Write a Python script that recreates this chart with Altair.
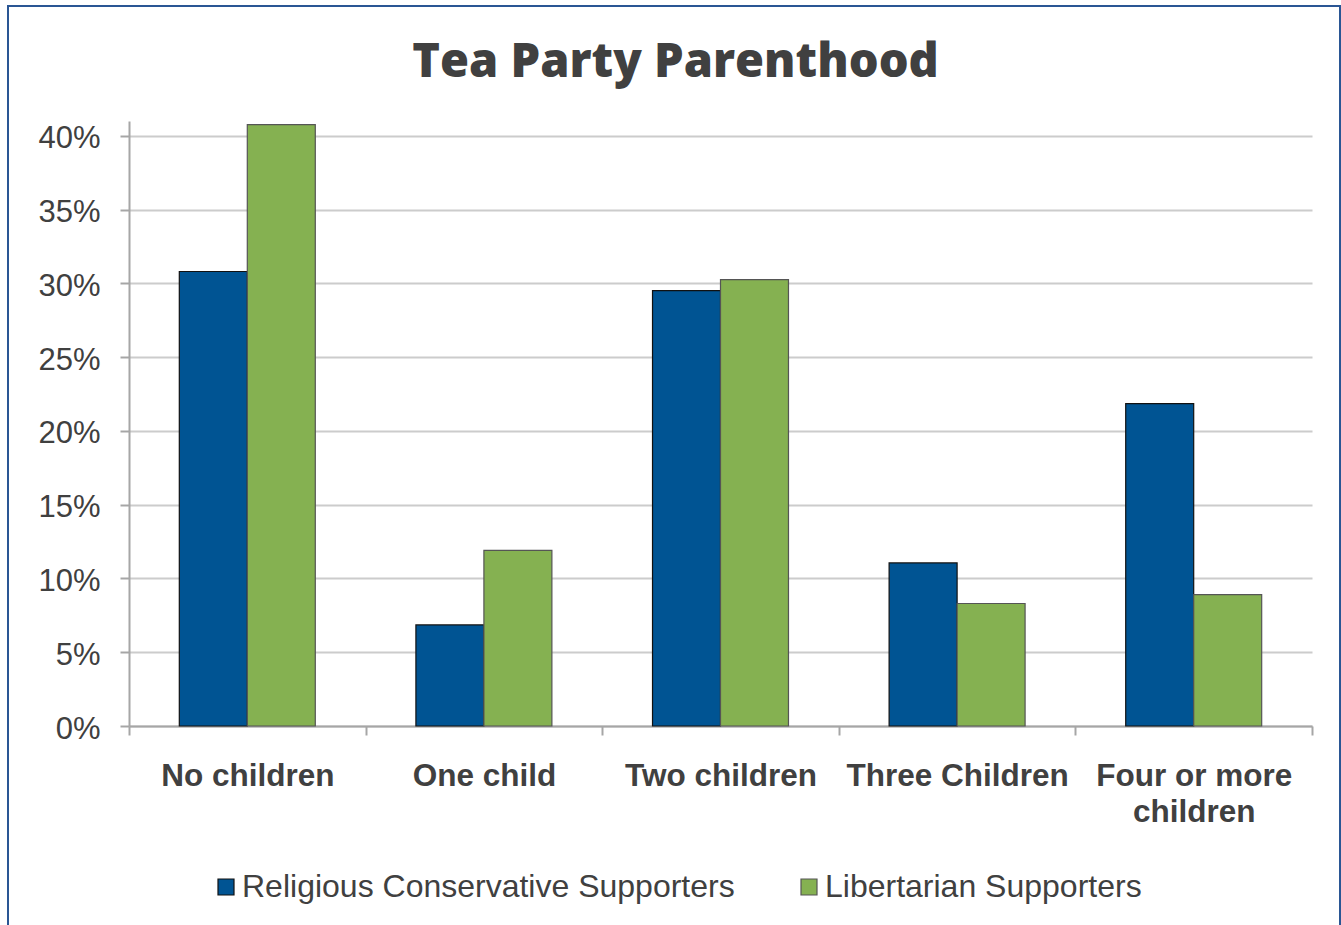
import altair as alt
import pandas as pd

categories = ["No children", "One child", "Two children", "Three Children", "Four or more children"]
series = ["Religious Conservative Supporters", "Libertarian Supporters"]
religious = [30.8, 6.85, 29.5, 11.05, 21.85]
libertarian = [40.75, 11.9, 30.25, 8.3, 8.9]
y_ticks = [0, 5, 10, 15, 20, 25, 30, 35, 40]

rows = []
for c, r, l in zip(categories, religious, libertarian):
    rows.append({"category": c, "series": series[0], "value": r})
    rows.append({"category": c, "series": series[1], "value": l})
df = pd.DataFrame(rows)

FONT = "Liberation Sans"
TXT = "#404040"

bars = alt.Chart(df).mark_bar(strokeWidth=1.2).encode(
    x=alt.X("category:N", sort=categories,
            scale=alt.Scale(paddingInner=0, paddingOuter=0),
            axis=alt.Axis(title=None, labelAngle=0, tickBand="extent", tickSize=9,
                          tickColor="#A6A6A6", tickWidth=2, domainColor="#A6A6A6",
                          domainWidth=2, labelFont=FONT, labelFontSize=31.5,
                          labelFontWeight="bold", labelColor=TXT, labelPadding=25,
                          labelLimit=400, labelOverlap=False, labelLineHeight=36,
                          labelExpr="datum.label == 'Four or more children' ? ['Four or more', 'children'] : datum.label")),
    xOffset=alt.XOffset("series:N", sort=series,
                        scale=alt.Scale(paddingInner=0, paddingOuter=0.74)),
    y=alt.Y("value:Q", scale=alt.Scale(domain=[0, 41], nice=False),
            axis=alt.Axis(title=None, values=y_ticks, tickSize=9, tickColor="#A6A6A6",
                          tickWidth=2, domainColor="#A6A6A6", domainWidth=2,
                          gridColor="#CCCCCC", gridWidth=2, labelFont=FONT,
                          labelFontSize=31, labelColor=TXT, labelPadding=20,
                          labelOffset=3,
                          labelExpr="datum.value + '%'")),
    fill=alt.Fill("series:N", sort=series,
                  scale=alt.Scale(domain=series, range=["#005493", "#85B151"]),
                  legend=alt.Legend(title=None, orient="none", legendX=81, legendY=750,
                                    direction="horizontal", symbolType="square",
                                    symbolSize=256, symbolStrokeColor="#1a1a1a",
                                    symbolStrokeWidth=1.2, labelFont=FONT,
                                    labelFontSize=32, labelColor=TXT, labelLimit=700,
                                    labelOffset=0, columnPadding=58, padding=0)),
    stroke=alt.Stroke("series:N", sort=series,
                      scale=alt.Scale(domain=series, range=["#111111", "#555555"]),
                      legend=None),
)

frame = alt.Chart(alt.Data(values=[{"a": 1}])).mark_rect(
    fill=None, stroke="#2A5694", strokeWidth=2
).encode(
    x=alt.value(-121), x2=alt.value(1211), y=alt.value(-115), y2=alt.value(830)
)

chart = alt.layer(frame, bars).properties(
    width=1183, height=605,
    padding={"left": 129, "top": 121, "right": 29, "bottom": 199},
    autosize=alt.AutoSizeParams(type="none"),
    title=alt.TitleParams("Tea Party Parenthood", font="Open Sans", fontSize=47,
                          fontWeight=800, color=TXT, anchor="middle",
                          frame="group", dx=-45, offset=-119, baseline="alphabetic"),
).configure_view(stroke=None)

chart.save("out.html", embed_options={"renderer": "svg", "actions": False})
